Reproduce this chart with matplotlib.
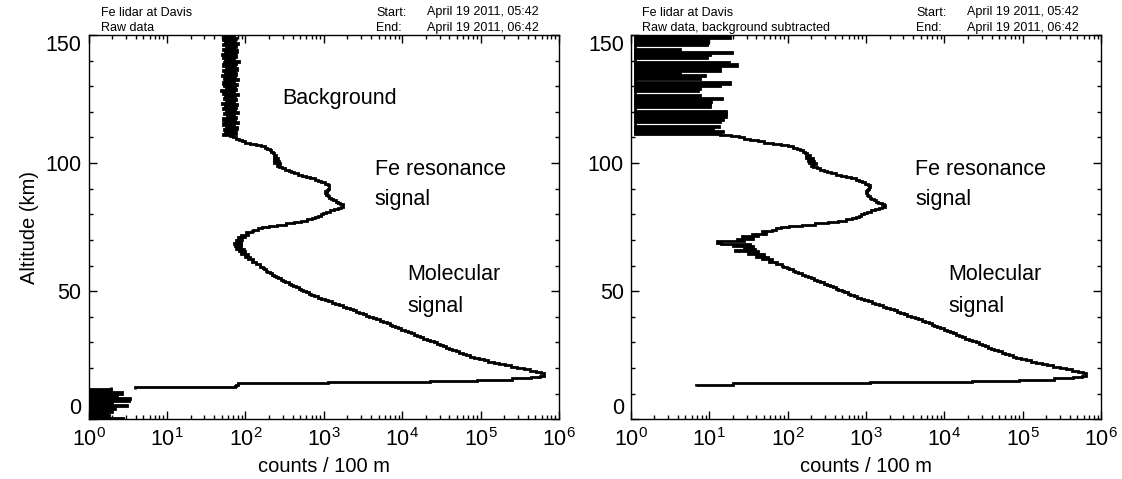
import numpy as np
import matplotlib
matplotlib.use("Agg")
import matplotlib.pyplot as plt
from matplotlib.ticker import MultipleLocator, FixedLocator, NullFormatter

plt.rcParams["font.family"] = ["Liberation Sans", "DejaVu Sans"]
plt.rcParams["mathtext.fontset"] = "custom"
plt.rcParams["mathtext.rm"] = "Liberation Sans"
plt.rcParams["mathtext.it"] = "Liberation Sans:italic"

# profiles are 0.5 km bins, values are log10(counts / 100 m)
BIN = 0.5

# raw data, ground noise below the gate opening (0 - 12.5 km)
ground_start = 0.0
ground_raw = [0.44, 0, 0.26, 0, 0.23, 0, 0.30, 0, 0.34, 0,
              0.49, 0, 0.30, 0, 0.51, 0, 0.53, 0, 0.36, 0,
              0.43, 0, 0.28, 0, 0.28]

# raw data, 12 - 150 km
raw_start = 12.0
raw_profile = [
    0.59, 1.87, 1.88, 1.90, 3.05, 4.35, 4.95, 5.40, 5.64, 5.76,   # 12
    5.81, 5.81, 5.77, 5.71, 5.63, 5.55, 5.47, 5.39, 5.31, 5.24,   # 17
    5.17, 5.10, 5.04, 4.98, 4.92, 4.87, 4.82, 4.77, 4.73, 4.69,   # 22
    4.64, 4.60, 4.56, 4.52, 4.48, 4.44, 4.40, 4.35, 4.31, 4.27,   # 27
    4.23, 4.19, 4.15, 4.11, 4.07, 4.03, 3.99, 3.95, 3.91, 3.87,   # 32
    3.84, 3.80, 3.76, 3.72, 3.67, 3.63, 3.58, 3.54, 3.50, 3.45,   # 37
    3.41, 3.37, 3.33, 3.28, 3.24, 3.19, 3.14, 3.10, 3.05, 3.01,   # 42
    2.97, 2.92, 2.88, 2.84, 2.81, 2.77, 2.74, 2.71, 2.68, 2.64,   # 47
    2.61, 2.58, 2.55, 2.51, 2.48, 2.45, 2.42, 2.39, 2.36, 2.34,   # 52
    2.31, 2.28, 2.26, 2.24, 2.22, 2.19, 2.18, 2.14, 2.14, 2.09,   # 57
    2.10, 2.03, 2.06, 1.99, 2.03, 1.95, 2.00, 1.92, 1.98, 1.88,   # 62
    1.95, 1.87, 1.94, 1.86, 1.95, 1.88, 1.96, 1.91, 1.99, 1.95,   # 67
    2.03, 2.01, 2.08, 2.10, 2.16, 2.21, 2.30, 2.40, 2.52, 2.62,   # 72
    2.71, 2.79, 2.85, 2.89, 2.93, 2.96, 2.99, 3.03, 3.08, 3.13,   # 77
    3.18, 3.22, 3.25, 3.24, 3.21, 3.18, 3.15, 3.12, 3.09, 3.07,   # 82
    3.05, 3.03, 3.04, 3.02, 3.04, 3.05, 3.06, 3.07, 3.07, 3.05,   # 87
    3.01, 2.97, 2.93, 2.89, 2.83, 2.77, 2.72, 2.67, 2.62, 2.58,   # 92
    2.55, 2.50, 2.47, 2.43, 2.40, 2.44, 2.37, 2.43, 2.36, 2.41,   # 97
    2.36, 2.39, 2.36, 2.37, 2.35, 2.33, 2.31, 2.28, 2.25, 2.20,   # 102
    2.13, 2.06, 2.00, 1.96, 1.92, 1.88, 1.84, 1.80, 1.72, 1.88,   # 107
    1.74, 1.87, 1.73, 1.89, 1.75, 1.86, 1.72, 1.90, 1.74, 1.87,   # 112
    1.71, 1.88, 1.76, 1.86, 1.73, 1.91, 1.75, 1.87, 1.72, 1.88,   # 117
    1.74, 1.89, 1.70, 1.86, 1.75, 1.88, 1.73, 1.87, 1.74, 1.90,   # 122
    1.72, 1.86, 1.69, 1.88, 1.75, 1.87, 1.73, 1.89, 1.71, 1.86,   # 127
    1.74, 1.90, 1.73, 1.87, 1.70, 1.88, 1.74, 1.86, 1.72, 1.89,   # 132
    1.75, 1.87, 1.71, 1.88, 1.73, 1.92, 1.74, 1.86, 1.72, 1.88,   # 137
    1.70, 1.87, 1.74, 1.89, 1.72, 1.86, 1.75, 1.88, 1.71, 1.90,   # 142
    1.74, 1.87, 1.72, 1.88, 1.73, 1.86]                           # 147

# background subtracted, 13 - 150 km
sub_start = 13.0
sub_profile = [
    0.83, 1.30, 3.05, 4.35, 4.95, 5.40, 5.64, 5.76, 5.81, 5.81,   # 13
    5.77, 5.71, 5.63, 5.55, 5.47, 5.39, 5.31, 5.24, 5.17, 5.10,   # 18
    5.04, 4.98, 4.92, 4.87, 4.82, 4.77, 4.73, 4.69, 4.64, 4.60,   # 23
    4.56, 4.52, 4.48, 4.44, 4.40, 4.35, 4.31, 4.27, 4.23, 4.19,   # 28
    4.15, 4.11, 4.07, 4.03, 3.99, 3.95, 3.91, 3.87, 3.84, 3.80,   # 33
    3.76, 3.72, 3.67, 3.63, 3.57, 3.53, 3.49, 3.44, 3.40, 3.36,   # 38
    3.31, 3.26, 3.22, 3.17, 3.12, 3.08, 3.03, 2.98, 2.94, 2.89,   # 43
    2.85, 2.80, 2.77, 2.72, 2.69, 2.65, 2.62, 2.58, 2.54, 2.50,   # 48
    2.47, 2.42, 2.38, 2.34, 2.30, 2.26, 2.22, 2.19, 2.14, 2.10,   # 53
    2.07, 2.02, 1.99, 1.94, 1.93, 1.85, 1.86, 1.76, 1.80, 1.68,   # 58
    1.75, 1.60, 1.70, 1.50, 1.62, 1.33, 1.58, 1.45, 1.56, 1.30,   # 63
    1.52, 1.15, 1.10, 1.45, 1.35, 1.56, 1.42, 1.62, 1.55, 1.72,   # 68
    1.68, 1.80, 1.85, 1.92, 2.02, 2.18, 2.35, 2.52, 2.64, 2.74,   # 73
    2.82, 2.87, 2.91, 2.94, 2.98, 3.02, 3.07, 3.12, 3.17, 3.21,   # 78
    3.24, 3.23, 3.20, 3.16, 3.13, 3.10, 3.07, 3.05, 3.03, 3.01,   # 83
    3.02, 3.00, 3.02, 3.03, 3.04, 3.05, 3.05, 3.03, 2.99, 2.95,   # 88
    2.91, 2.87, 2.81, 2.74, 2.68, 2.62, 2.56, 2.51, 2.47, 2.42,   # 93
    2.38, 2.33, 2.30, 2.36, 2.27, 2.34, 2.26, 2.32, 2.24, 2.29,   # 98
    2.24, 2.25, 2.22, 2.20, 2.16, 2.12, 2.07, 2.01, 1.92, 1.82,   # 103
    1.70, 1.62, 1.52, 1.44, 1.38, 1.28, 1.14, 0.06, 1.18, 0.06,   # 108
    1.05, 0.06, 1.12, 0.06, 0.06, 0.06, 1.14, 0.06, 1.18, 0.06,   # 113
    1.22, 0.06, 1.21, 0.06, 1.22, 0.06, 0.06, 0.06, 1.01, 0.06,   # 118
    1.01, 0.06, 1.03, 0.06, 1.16, 0.06, 0.88, 0.06, 0.06, 0.06,   # 123
    0.86, 0.06, 0.88, 0.06, 1.14, 0.06, 1.27, 0.06, 0.06, 0.06,   # 128
    0.88, 0.06, 0.95, 0.06, 0.63, 0.06, 1.14, 0.06, 1.14, 0.06,   # 133
    1.35, 0.06, 1.25, 0.06, 0.06, 0.06, 0.97, 0.06, 1.01, 0.06,   # 138
    1.29, 0.06, 0.63, 0.06, 0.06, 0.06, 0.97, 0.06, 0.99, 0.06,   # 143
    0.99, 0.06, 1.27, 0.06]                                       # 148

headers = [("Fe lidar at Davis", "Raw data"),
           ("Fe lidar at Davis", "Raw data, background subtracted")]
start_time = "April 19 2011, 05:42"
end_time = "April 19 2011, 06:42"

W, H = 1122, 479
fig = plt.figure(figsize=(W / 100, H / 100), dpi=100)


def px_axes(x0, x1, ytop, ybot):
    return fig.add_axes([x0 / W, 1 - ybot / H, (x1 - x0) / W, (ybot - ytop) / H])


def draw_profile(ax, start, logvals):
    vals = 10 ** np.asarray(logvals, dtype=float)
    edges = start + BIN * np.arange(len(vals) + 1)
    ax.stairs(vals, edges, orientation="horizontal", baseline=None,
              color="black", lw=2.0)


def style(ax, ylabel=False):
    ax.set_xscale("log")
    ax.set_xlim(1, 1e6)
    ax.set_ylim(0, 150)
    ax.set_yticks([0, 50, 100, 150])
    ax.yaxis.set_minor_locator(MultipleLocator(10))
    ax.set_xticks([1e0, 1e1, 1e2, 1e3, 1e4, 1e5, 1e6])
    minors = [m * 10.0 ** d for d in range(6) for m in range(2, 10)]
    ax.xaxis.set_minor_locator(FixedLocator(minors))
    ax.xaxis.set_minor_formatter(NullFormatter())
    ax.tick_params(which="both", direction="in", top=True, right=True,
                   width=1.0, labelsize=15.5)
    ax.tick_params(which="major", length=5.5)
    ax.tick_params(which="minor", length=3)
    ax.tick_params(axis="x", which="major", pad=6)
    ax.tick_params(axis="y", which="major", pad=5)
    for sp in ax.spines.values():
        sp.set_linewidth(1.0)
    ax.set_xlabel("counts / 100 m", fontsize=14.5, labelpad=5)
    if ylabel:
        ax.set_ylabel("Altitude (km)", fontsize=14.5, labelpad=5)
    ticks = ax.yaxis.get_major_ticks()
    ticks[0].label1.set_va("bottom")
    ticks[-1].label1.set_va("top")


ax1 = px_axes(88.6, 559.0, 35, 419.3)
ax2 = px_axes(630.7, 1101.1, 35, 419.3)

draw_profile(ax1, ground_start, ground_raw)
draw_profile(ax1, raw_start, raw_profile)
draw_profile(ax2, sub_start, sub_profile)

style(ax1, ylabel=True)
style(ax2)

lab = dict(fontsize=15.5, va="baseline", ha="left")
ax1.text(10 ** 2.47, 123.2, "Background", **lab)
ax1.text(10 ** 3.65, 95.4, "Fe resonance", **lab)
ax1.text(10 ** 3.65, 83.6, "signal", **lab)
ax1.text(10 ** 4.07, 54.4, "Molecular", **lab)
ax1.text(10 ** 4.07, 42.0, "signal", **lab)
ax2.text(10 ** 3.63, 95.4, "Fe resonance", **lab)
ax2.text(10 ** 3.63, 83.6, "signal", **lab)
ax2.text(10 ** 4.05, 54.4, "Molecular", **lab)
ax2.text(10 ** 4.05, 42.0, "signal", **lab)

# header lines above each panel
for (t1, t2), x_title, x_key, x_date in zip(headers, (101, 642), (376, 916), (427, 967)):
    fig.text(x_title / W, 1 - 12.5 / H, t1, fontsize=9, va="center")
    fig.text(x_title / W, 1 - 28 / H, t2, fontsize=9, va="center")
    fig.text(x_key / W, 1 - 12.5 / H, "Start:", fontsize=9, va="center")
    fig.text(x_key / W, 1 - 28 / H, "End:", fontsize=9, va="center")
    fig.text(x_date / W, 1 - 12.5 / H, start_time, fontsize=9, va="center")
    fig.text(x_date / W, 1 - 28 / H, end_time, fontsize=9, va="center")

fig.savefig("out.png", dpi=100)
